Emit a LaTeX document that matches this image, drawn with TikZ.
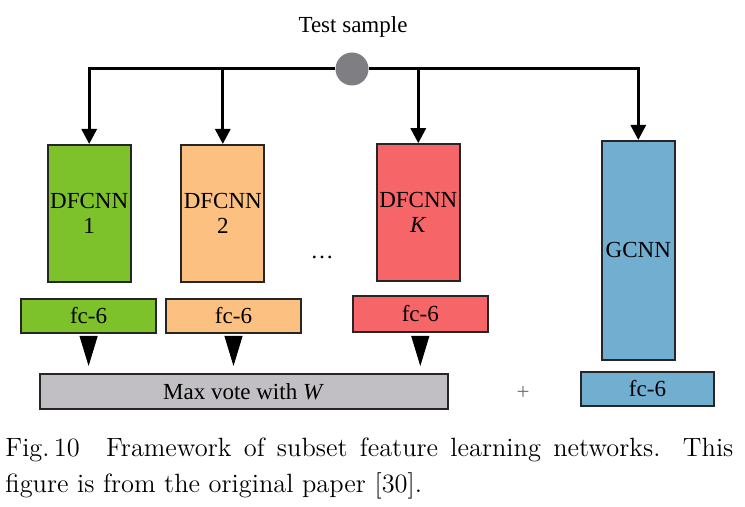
\documentclass[tikz,border=0pt]{standalone}
\usepackage{fontspec}
\newfontfamily\timesfont{Liberation Serif}
\usepackage{tikz}
\usetikzlibrary{arrows.meta, positioning}

\definecolor{dfgreen}{RGB}{125,194,42}
\definecolor{dforange}{RGB}{252,192,128}
\definecolor{dfred}{RGB}{246,102,104}
\definecolor{gcblue}{RGB}{114,174,208}
\definecolor{votegray}{RGB}{193,191,196}
\definecolor{hubgray}{RGB}{127,126,130}

\tikzset{
  netbox/.style={draw=black!85, line width=1pt, inner sep=1pt, align=center,
    minimum width=41.5pt, minimum height=68.5pt},
  fcbox/.style={draw=black!85, line width=1pt, inner sep=1pt,
    minimum width=67.5pt, minimum height=17pt},
  arr/.style={line width=1.5pt, -{Triangle[width=7.5pt,length=7.5pt]}},
  tri/.style={line width=0.4pt, shorten <=2pt, shorten >=3.5pt,
    -{Triangle[width=9pt,length=15pt]}}
}

\begin{document}
\begin{tikzpicture}[x=0.5pt, y=-0.5pt,
    font=\timesfont\fontsize{11.5}{12.5}\selectfont]
  \useasboundingbox (0,0) rectangle (745,507);

  % input
  \node (title) at (353,27) {Test sample};
  \node[circle, fill=hubgray, minimum size=16.5pt, inner sep=0] (hub) at (352,69) {};

  % subset networks
  \node[netbox, fill=dfgreen] (dfA) at (89.2,213.5) {DFCNN\\1};
  \node[netbox, fill=dforange] (dfB) at (222.8,213.5) {DFCNN\\2};
  \node[netbox, fill=dfred] (dfK) at (418.3,212.7) {DFCNN\\\textit{K}};
  \node (dots) at (322,257) {\dots};
  \node[netbox, fill=gcblue, minimum width=36.7pt, minimum height=109.5pt] (gc) at (638.3,250.5) {GCNN};

  % fc layers
  \node[fcbox, fill=dfgreen] (fcA) at (88.6,316) {fc-6};
  \node[fcbox, fill=dforange] (fcB) at (233.5,316) {fc-6};
  \node[fcbox, fill=dfred, minimum height=17.8pt] (fcK) at (420.3,313.8) {fc-6};
  \node[fcbox, fill=gcblue, minimum width=66.5pt] (fcG) at (647.5,388.8) {fc-6};

  \node[fcbox, fill=votegray, minimum width=204pt, minimum height=17.5pt] (vote) at (243.5,391.5) {Max vote with \textit{W}};
  \node[text=black!55] (plus) at (523,393) {+};

  % branches
  \draw[arr] (hub.west) -| (dfA.north);
  \draw[arr] (hub.west) -| (dfB.north);
  \draw[arr] (hub.east) -| (dfK.north);
  \draw[arr] (hub.east) -| (gc.north);

  \draw[tri] (fcA) -- (fcA |- vote.north);
  \draw[tri] (fcB) -- (fcB |- vote.north);
  \draw[tri] (fcK) -- (fcK |- vote.north);

  % caption
  \node[anchor=north west, inner sep=0, text width=364pt, align=justify,
    font=\rmfamily\fontsize{13.2}{17.8}\selectfont] (cap) at (5,438)
    {Fig.\,10\hspace{1em}Framework of subset feature learning networks. This\linebreak
     figure is from the original paper [30].};
\end{tikzpicture}
\end{document}
